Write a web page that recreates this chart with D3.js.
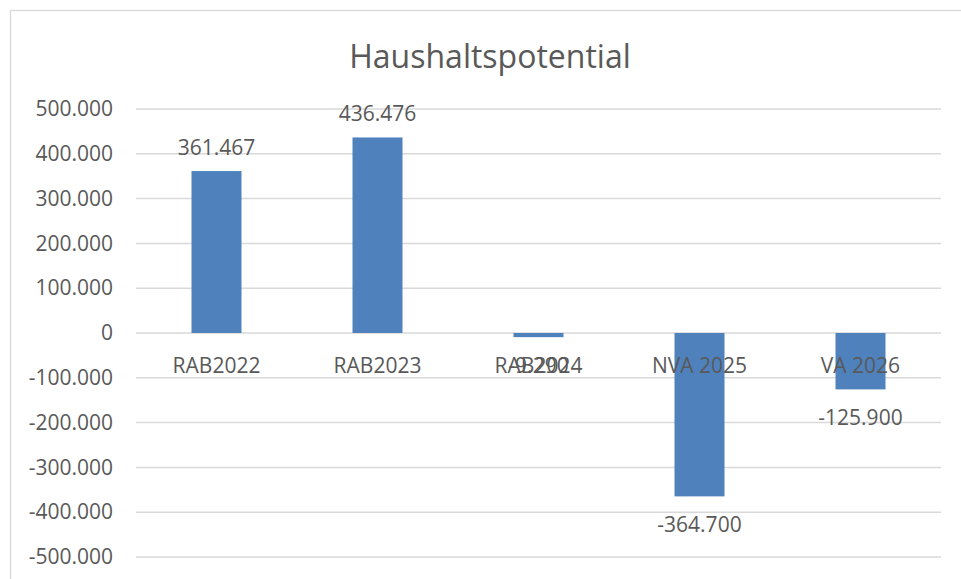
<!DOCTYPE html>
<html>
<head>
<meta charset="utf-8">
<script src="https://cdn.jsdelivr.net/npm/d3@7"></script>
<style>
  body { margin: 0; background: #fff; }
  text { font-family: "Open Sans", sans-serif; fill: #595959; }
</style>
</head>
<body>
<script>
// data
var categories = ["RAB2022", "RAB2023", "RAB2024", "NVA 2025", "VA 2026"];
var values = [361467, 436476, -9290, -364700, -125900];
var yTicks = [500000, 400000, 300000, 200000, 100000, 0, -100000, -200000, -300000, -400000, -500000];
var title = "Haushaltspotential";

var W = 961, H = 579;
var plot = {left: 136, right: 941, top: 109, bottom: 557};

var de = d3.formatLocale({decimal: ",", thousands: ".", grouping: [3], currency: ["", " €"], minus: "-"});
var fmt = de.format(",");

var svg = d3.select("body").append("svg")
    .attr("width", W)
    .attr("height", H);

svg.append("rect").attr("width", W).attr("height", H).attr("fill", "#fff");

// chart border
svg.append("rect")
    .attr("x", 10.5).attr("y", 10.5)
    .attr("width", W + 20).attr("height", H + 20)
    .attr("fill", "none")
    .attr("stroke", "#d9d9d9")
    .attr("stroke-width", 1.3);

var x = d3.scaleBand().domain(categories).range([plot.left, plot.right]).paddingInner(0).paddingOuter(0);
var y = d3.scaleLinear().domain([-500000, 500000]).range([plot.bottom, plot.top]);
var barW = 50;

// title
svg.append("text")
    .attr("x", 490).attr("y", 55)
    .attr("text-anchor", "middle")
    .attr("dominant-baseline", "central")
    .style("font-size", "32px")
    .text(title);

// gridlines
svg.append("g").selectAll("line")
    .data(yTicks)
    .enter().append("line")
    .attr("x1", plot.left).attr("x2", plot.right)
    .attr("y1", function(d) { return y(d); })
    .attr("y2", function(d) { return y(d); })
    .attr("stroke", "#d9d9d9")
    .attr("stroke-width", 1.5);

// y axis labels
var yAxis = d3.axisLeft(y).tickValues(yTicks).tickFormat(fmt).tickSize(0).tickPadding(0);
var gy = svg.append("g")
    .attr("transform", "translate(113,0)")
    .call(yAxis);
gy.select(".domain").remove();
gy.selectAll("text")
    .style("font-size", "21px")
    .attr("fill", "#595959");

// bars
svg.append("g").selectAll("rect")
    .data(values)
    .enter().append("rect")
    .attr("x", function(d, i) { return x(categories[i]) + x.bandwidth() / 2 - barW / 2; })
    .attr("width", barW)
    .attr("y", function(d) { return y(Math.max(0, d)); })
    .attr("height", function(d) { return Math.abs(y(d) - y(0)); })
    .attr("fill", "#4f81bd");

// category labels
svg.append("g").selectAll("text")
    .data(categories)
    .enter().append("text")
    .attr("x", function(d) { return x(d) + x.bandwidth() / 2; })
    .attr("y", y(0) + 32)
    .attr("text-anchor", "middle")
    .attr("dominant-baseline", "central")
    .style("font-size", "21px")
    .text(function(d) { return d; });

// value labels
svg.append("g").selectAll("text")
    .data(values)
    .enter().append("text")
    .attr("x", function(d, i) { return x(categories[i]) + x.bandwidth() / 2; })
    .attr("y", function(d) { return d >= 0 ? y(d) - 24 : y(d) + 28; })
    .attr("text-anchor", "middle")
    .attr("dominant-baseline", "central")
    .style("font-size", "21px")
    .text(function(d) { return fmt(d); });
</script>
</body>
</html>
